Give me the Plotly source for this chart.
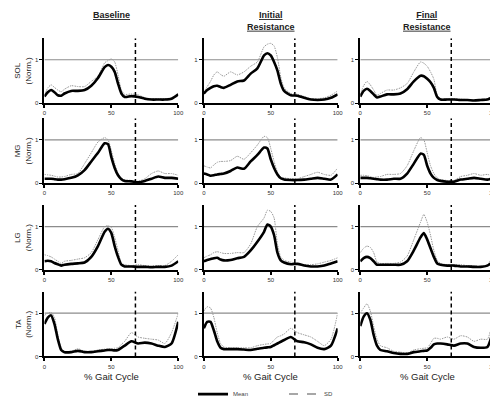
import plotly.graph_objects as go

# ---------------- data ----------------
GAIT_PCT = [0, 2.5, 5, 7.5, 10, 12.5, 15, 20, 25, 30, 35, 40, 45, 47.5, 50,
            52.5, 55, 57.5, 60, 65, 70, 75, 80, 85, 90, 95, 100]
CONDITIONS = ["Baseline", "Initial<br>Resistance", "Final<br>Resistance"]
MUSCLES = ["SOL", "MG", "LG", "TA"]
X_TICKS = [0, 50, 100]
Y_TICKS = [0, 1]
NORM_LEVEL = 1
TOE_OFF = 68

sol_base_mean = [0.15, 0.25, 0.30, 0.25, 0.18, 0.17, 0.22, 0.28, 0.28, 0.30, 0.40, 0.58, 0.83, 0.88, 0.84, 0.72, 0.45, 0.22, 0.14, 0.16, 0.14, 0.10, 0.08, 0.08, 0.08, 0.10, 0.20]
sol_base_sd = [0.18, 0.35, 0.42, 0.36, 0.30, 0.26, 0.32, 0.40, 0.38, 0.38, 0.50, 0.62, 0.93, 0.98, 1.02, 0.95, 0.65, 0.30, 0.20, 0.21, 0.19, 0.12, 0.10, 0.10, 0.10, 0.12, 0.22]
sol_init_mean = [0.22, 0.30, 0.35, 0.39, 0.40, 0.37, 0.35, 0.42, 0.50, 0.52, 0.68, 0.80, 1.10, 1.15, 1.10, 0.95, 0.75, 0.45, 0.28, 0.18, 0.17, 0.12, 0.08, 0.07, 0.08, 0.12, 0.20]
sol_init_sd = [0.25, 0.38, 0.50, 0.65, 0.72, 0.66, 0.62, 0.72, 0.65, 0.72, 0.85, 0.95, 1.30, 1.36, 1.38, 1.32, 1.05, 0.60, 0.35, 0.22, 0.20, 0.15, 0.10, 0.10, 0.12, 0.18, 0.28]
sol_final_mean = [0.15, 0.28, 0.33, 0.28, 0.20, 0.13, 0.15, 0.20, 0.20, 0.22, 0.32, 0.50, 0.63, 0.62, 0.56, 0.48, 0.35, 0.14, 0.08, 0.08, 0.08, 0.07, 0.07, 0.06, 0.07, 0.08, 0.15]
sol_final_sd = [0.20, 0.40, 0.50, 0.42, 0.30, 0.18, 0.22, 0.30, 0.30, 0.35, 0.45, 0.72, 0.95, 0.92, 0.85, 0.72, 0.55, 0.18, 0.10, 0.10, 0.10, 0.09, 0.08, 0.08, 0.08, 0.10, 0.17]

mg_base_mean = [0.10, 0.10, 0.10, 0.09, 0.08, 0.08, 0.09, 0.12, 0.18, 0.30, 0.50, 0.70, 0.92, 0.90, 0.60, 0.35, 0.18, 0.09, 0.05, 0.04, 0.02, 0.05, 0.10, 0.15, 0.12, 0.12, 0.10]
mg_base_sd = [0.20, 0.19, 0.18, 0.16, 0.14, 0.14, 0.15, 0.20, 0.22, 0.45, 0.70, 0.95, 1.05, 1.00, 0.75, 0.45, 0.22, 0.11, 0.08, 0.06, 0.04, 0.10, 0.22, 0.28, 0.22, 0.22, 0.18]
mg_init_mean = [0.22, 0.20, 0.17, 0.18, 0.20, 0.21, 0.22, 0.28, 0.36, 0.33, 0.50, 0.65, 0.82, 0.80, 0.55, 0.35, 0.20, 0.11, 0.08, 0.07, 0.07, 0.08, 0.10, 0.12, 0.10, 0.08, 0.20]
mg_init_sd = [0.40, 0.37, 0.35, 0.42, 0.48, 0.50, 0.50, 0.52, 0.62, 0.55, 0.70, 0.88, 1.08, 1.05, 0.80, 0.50, 0.25, 0.14, 0.12, 0.10, 0.10, 0.15, 0.20, 0.25, 0.20, 0.18, 0.35]
mg_final_mean = [0.12, 0.12, 0.12, 0.11, 0.10, 0.09, 0.08, 0.08, 0.10, 0.10, 0.22, 0.45, 0.68, 0.65, 0.40, 0.22, 0.12, 0.07, 0.05, 0.03, 0.03, 0.08, 0.10, 0.12, 0.10, 0.08, 0.12]
mg_final_sd = [0.18, 0.18, 0.17, 0.15, 0.13, 0.14, 0.15, 0.20, 0.20, 0.22, 0.40, 0.75, 1.05, 1.00, 0.70, 0.40, 0.22, 0.12, 0.08, 0.06, 0.06, 0.15, 0.18, 0.22, 0.18, 0.20, 0.15]

lg_base_mean = [0.20, 0.21, 0.20, 0.16, 0.13, 0.10, 0.12, 0.14, 0.15, 0.17, 0.30, 0.55, 0.88, 0.95, 0.85, 0.55, 0.30, 0.12, 0.08, 0.08, 0.07, 0.07, 0.06, 0.07, 0.07, 0.10, 0.20]
lg_base_sd = [0.35, 0.33, 0.30, 0.25, 0.20, 0.15, 0.20, 0.22, 0.25, 0.28, 0.40, 0.70, 1.00, 1.02, 0.98, 0.75, 0.45, 0.15, 0.12, 0.10, 0.12, 0.10, 0.10, 0.10, 0.10, 0.20, 0.35]
lg_init_mean = [0.20, 0.23, 0.25, 0.27, 0.28, 0.24, 0.22, 0.23, 0.27, 0.30, 0.45, 0.65, 0.88, 1.05, 1.00, 0.80, 0.40, 0.22, 0.17, 0.13, 0.14, 0.10, 0.08, 0.08, 0.10, 0.15, 0.20]
lg_init_sd = [0.28, 0.32, 0.35, 0.40, 0.42, 0.40, 0.38, 0.38, 0.40, 0.40, 0.60, 1.00, 1.20, 1.38, 1.35, 1.20, 0.60, 0.30, 0.22, 0.18, 0.15, 0.12, 0.12, 0.14, 0.18, 0.22, 0.28]
lg_final_mean = [0.20, 0.27, 0.30, 0.27, 0.20, 0.12, 0.12, 0.12, 0.12, 0.12, 0.20, 0.45, 0.75, 0.85, 0.70, 0.50, 0.30, 0.15, 0.12, 0.10, 0.10, 0.08, 0.08, 0.07, 0.07, 0.10, 0.20]
lg_final_sd = [0.40, 0.50, 0.55, 0.52, 0.40, 0.18, 0.15, 0.15, 0.15, 0.18, 0.32, 0.70, 1.10, 1.28, 1.10, 0.80, 0.45, 0.22, 0.15, 0.12, 0.12, 0.12, 0.10, 0.10, 0.08, 0.12, 0.38]

ta_base_mean = [0.75, 0.90, 0.95, 0.75, 0.40, 0.15, 0.10, 0.10, 0.13, 0.10, 0.10, 0.12, 0.14, 0.15, 0.15, 0.14, 0.15, 0.20, 0.25, 0.35, 0.30, 0.32, 0.30, 0.25, 0.22, 0.30, 0.80]
ta_base_sd = [0.95, 1.00, 1.02, 0.90, 0.50, 0.20, 0.12, 0.12, 0.18, 0.12, 0.12, 0.15, 0.17, 0.18, 0.18, 0.19, 0.20, 0.28, 0.35, 0.55, 0.45, 0.42, 0.40, 0.38, 0.30, 0.55, 1.00]
ta_init_mean = [0.65, 0.80, 0.80, 0.60, 0.35, 0.20, 0.17, 0.17, 0.17, 0.16, 0.15, 0.18, 0.20, 0.21, 0.22, 0.26, 0.30, 0.34, 0.38, 0.45, 0.35, 0.33, 0.28, 0.20, 0.17, 0.25, 0.65]
ta_init_sd = [1.05, 1.15, 1.12, 0.90, 0.55, 0.30, 0.22, 0.20, 0.20, 0.20, 0.20, 0.25, 0.28, 0.29, 0.30, 0.38, 0.45, 0.48, 0.52, 0.65, 0.55, 0.50, 0.45, 0.35, 0.25, 0.40, 1.00]
ta_final_mean = [0.70, 0.92, 1.00, 0.85, 0.50, 0.25, 0.15, 0.12, 0.08, 0.06, 0.06, 0.10, 0.12, 0.13, 0.14, 0.20, 0.28, 0.30, 0.30, 0.28, 0.25, 0.30, 0.30, 0.22, 0.20, 0.22, 0.70]
ta_final_sd = [1.00, 1.12, 1.22, 1.05, 0.70, 0.40, 0.25, 0.20, 0.12, 0.10, 0.08, 0.15, 0.18, 0.19, 0.20, 0.30, 0.42, 0.42, 0.40, 0.45, 0.40, 0.48, 0.45, 0.35, 0.40, 0.40, 1.00]

MEANS = [[sol_base_mean, sol_init_mean, sol_final_mean],
         [mg_base_mean, mg_init_mean, mg_final_mean],
         [lg_base_mean, lg_init_mean, lg_final_mean],
         [ta_base_mean, ta_init_mean, ta_final_mean]]
SDS = [[sol_base_sd, sol_init_sd, sol_final_sd],
       [mg_base_sd, mg_init_sd, mg_final_sd],
       [lg_base_sd, lg_init_sd, lg_final_sd],
       [ta_base_sd, ta_init_sd, ta_final_sd]]

# ---------------- layout geometry ----------------
W, H = 498, 401
COL_PX = [(35, 171), (197, 333), (356, 492)]
ROW_PX = [(31, 97.7), (113.3, 180), (202.5, 269.3), (291.6, 358.3)]
FONT = "Liberation Sans, Arial, sans-serif"

fig = go.Figure()
layout = dict(
    width=W, height=H, margin=dict(l=0, r=0, t=0, b=0),
    paper_bgcolor="white", plot_bgcolor="white",
    font=dict(family=FONT, color="#222", size=7),
    showlegend=True,
    legend=dict(orientation="h", x=186 / W, y=1 - 397 / H, xanchor="left", yanchor="middle",
                font=dict(size=6, color="#444"), entrywidth=46, bgcolor="rgba(0,0,0,0)",
                tracegroupgap=0),
)
shapes = []
annotations = []

for r in range(4):
    for c in range(3):
        k = r * 3 + c + 1
        xs = "" if k == 1 else str(k)
        xd = [COL_PX[c][0] / W, COL_PX[c][1] / W]
        yd = [1 - ROW_PX[r][1] / H, 1 - ROW_PX[r][0] / H]
        layout["xaxis" + xs] = dict(
            domain=xd, anchor="y" + xs, range=[0, 100], tickvals=X_TICKS,
            showline=True, linecolor="black", linewidth=2, ticks="outside",
            ticklen=3, tickwidth=2, tickcolor="black", showgrid=False, zeroline=False,
            tickfont=dict(size=6, color="#333"), fixedrange=True)
        layout["yaxis" + xs] = dict(
            domain=yd, anchor="x" + xs, range=[0, 1.5], tickvals=Y_TICKS,
            showline=True, linecolor="black", linewidth=2, ticks="outside",
            ticklen=3, tickwidth=1, tickcolor="black", showgrid=False, zeroline=False,
            tickfont=dict(size=6, color="#333"), fixedrange=True)
        # reference lines
        shapes.append(dict(type="line", xref="x" + xs, yref="y" + xs, x0=0, x1=100,
                           y0=NORM_LEVEL, y1=NORM_LEVEL, line=dict(color="#8c8c8c", width=1.2),
                           layer="below"))
        shapes.append(dict(type="line", xref="x" + xs, yref="y" + xs, x0=TOE_OFF, x1=TOE_OFF,
                           y0=0, y1=1.5, line=dict(color="black", width=1.5, dash="4px,3px")))
        fig.add_trace(go.Scatter(
            x=GAIT_PCT, y=SDS[r][c], mode="lines", xaxis="x" + xs, yaxis="y" + xs,
            line=dict(color="#999999", width=1, dash="1.5px,1px", shape="spline", smoothing=0.6),
            showlegend=False, hoverinfo="skip"))
        fig.add_trace(go.Scatter(
            x=GAIT_PCT, y=MEANS[r][c], mode="lines", xaxis="x" + xs, yaxis="y" + xs,
            line=dict(color="black", width=2.6, shape="spline", smoothing=0.6),
            name="Mean", showlegend=(k == 1), legendrank=1))
    # row title
    yc = 1 - (ROW_PX[r][0] + ROW_PX[r][1]) / 2 / H
    annotations.append(dict(text=MUSCLES[r] + "<br>(Norm.)", x=13 / W, y=yc, xref="paper",
                            yref="paper", showarrow=False, textangle=-90,
                            font=dict(size=8, color="#222"), xanchor="center", yanchor="middle"))

# legend-only SD entry (dashed grey)
fig.add_trace(go.Scatter(x=[None], y=[None], mode="lines", name="SD",
                         line=dict(color="#8a8a8a", width=1.5, dash="dash"),
                         showlegend=True, legendrank=2))

for c in range(3):
    xc = (COL_PX[c][0] + COL_PX[c][1]) / 2 / W
    annotations.append(dict(text="<b><u>" + CONDITIONS[c].replace("<br>", "</u></b><br><b><u>") + "</u></b>",
                            x=xc, y=1 - 0.5 / H, xref="paper", yref="paper", showarrow=False,
                            xanchor="center", yanchor="top", font=dict(size=9, color="#222")))
    annotations.append(dict(text="% Gait Cycle", x=xc, y=1 - 379 / H, xref="paper", yref="paper",
                            showarrow=False, xanchor="center", yanchor="middle",
                            font=dict(size=9.5, color="#222")))

layout["shapes"] = shapes
layout["annotations"] = annotations
fig.update_layout(**layout)
fig.write_html("out.html")
